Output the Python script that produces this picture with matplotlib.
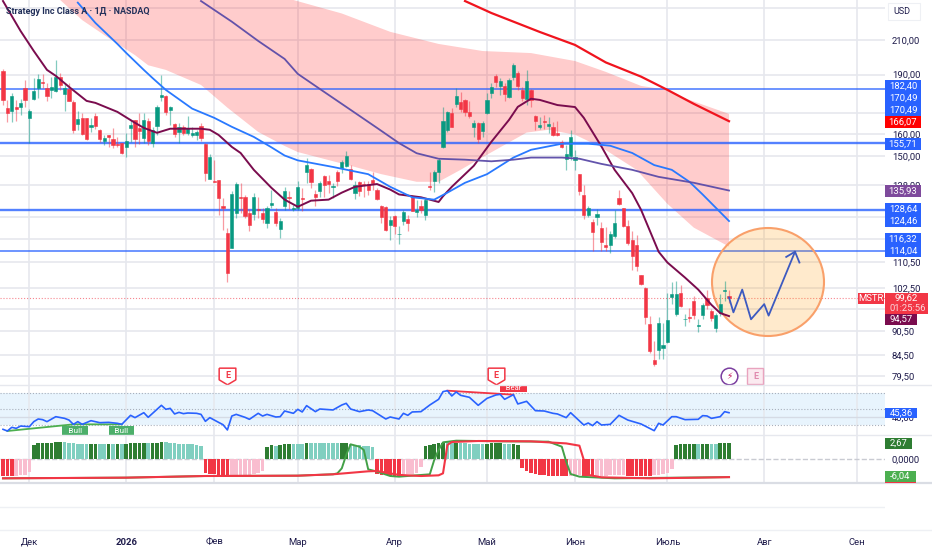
import numpy as np
import matplotlib
matplotlib.use('Agg')
import matplotlib.pyplot as plt
from matplotlib.lines import Line2D
from matplotlib.patches import Ellipse, Rectangle
from matplotlib.path import Path

plt.rcParams['font.family'] = ['Roboto', 'DejaVu Sans']

# daily candles, bars counted from the left edge of the chart
opens = [192.1, 172.3, 171.2, 173.2, 173.2, 182.6, 167.8, 177.3, 182.8, 185.8,
         182.8, 181.7, 181.4, 188.5, 179.5, 182.4, 175.6, 164.6, 167.4, 167.5,
         163.1, 168.6, 161.9, 157.0, 159.4, 157.6, 155.5, 156.0, 154.3, 162.9,
         166.5, 163.0, 158.3, 166.4, 155.8, 164.0, 178.3, 178.6, 171.5, 164.8,
         161.0, 163.2, 160.7, 159.4, 159.4, 164.0, 155.5, 140.5, 139.9, 140.0,
         129.8, 120.1, 115.1, 127.4, 133.5, 133.6, 127.4, 126.9, 128.9, 127.5,
         123.6, 130.3, 127.9, 121.6, 129.8, 133.6, 128.7, 129.1, 133.2, 143.6,
         144.7, 134.7, 135.8, 141.6, 139.6, 137.4, 143.6, 145.2, 145.7, 144.6,
         134.9, 139.3, 138.5, 138.5, 140.1, 136.3, 129.8, 129.5, 123.2, 126.2,
         119.8, 124.6, 125.3, 133.6, 127.7, 129.8, 126.5, 137.8, 139.6, 143.2,
         154.3, 161.9, 170.2, 174.4, 175.6, 176.5, 170.5, 163.5, 165.4, 161.4,
         170.2, 180.3, 189.3, 184.0, 183.8, 178.3, 188.7, 191.0, 181.7, 177.1,
         181.7, 168.6, 163.5, 166.0, 164.0, 163.5, 160.4, 156.4, 148.9, 150.0,
         148.3, 142.5, 134.3, 126.8, 124.2, 125.8, 122.0, 116.2, 116.1, 119.3,
         133.0, 129.1, 122.7, 117.7, 116.1, 106.4, 102.5, 92.5, 83.4, 85.7,
         86.3, 87.8, 100.0, 95.1, 101.2, 93.7, 94.3, 98.8, 91.8, 95.0,
         99.7, 96.0, 91.3, 95.5, 101.6, 100.2]
closes = [176.6, 170.2, 178.6, 171.9, 175.2, 176.6, 171.0, 181.0, 187.8, 185.3,
          178.6, 183.1, 188.5, 184.2, 182.6, 176.1, 161.9, 167.2, 160.0, 157.8,
          164.4, 163.8, 157.6, 158.3, 158.5, 155.0, 155.2, 151.7, 156.7, 164.3,
          157.6, 161.4, 166.5, 157.0, 161.9, 172.9, 179.0, 170.5, 173.2, 159.9,
          163.2, 160.7, 162.7, 160.4, 161.1, 158.0, 143.0, 149.7, 139.5, 133.1,
          129.1, 107.2, 134.7, 138.4, 133.0, 126.2, 123.0, 133.6, 128.5, 125.2,
          129.2, 131.0, 123.6, 124.5, 135.6, 133.2, 129.2, 137.5, 132.7, 146.2,
          139.4, 133.3, 138.9, 138.2, 138.5, 137.6, 139.6, 147.4, 150.0, 140.5,
          138.0, 135.6, 138.2, 136.2, 138.8, 132.7, 126.0, 121.4, 124.8, 122.6,
          120.0, 127.7, 123.8, 128.2, 128.6, 128.4, 132.4, 137.4, 143.4, 148.6,
          166.2, 170.3, 163.5, 178.8, 171.9, 170.5, 168.8, 165.4, 157.6, 165.1,
          176.6, 183.1, 186.2, 186.6, 179.5, 187.1, 195.4, 184.0, 177.6, 186.6,
          176.6, 166.4, 164.1, 165.5, 164.5, 159.6, 159.6, 154.0, 151.2, 158.5,
          149.6, 135.8, 126.5, 129.2, 120.5, 127.1, 117.0, 115.3, 120.0, 123.7,
          130.9, 122.7, 116.8, 112.4, 109.4, 103.8, 94.3, 85.4, 82.4, 92.8,
          87.0, 93.6, 100.9, 100.9, 97.4, 93.9, 94.1, 94.8, 92.1, 97.7,
          97.6, 94.0, 95.0, 97.8, 102.1, 99.62]
highs = [192.9, 176.6, 180.3, 176.6, 176.9, 187.1, 171.9, 188.0, 190.3, 190.3,
         185.3, 188.9, 198.2, 190.7, 185.3, 185.3, 176.6, 171.0, 169.9, 167.6,
         167.5, 170.2, 162.2, 159.6, 159.6, 162.7, 158.5, 156.1, 160.4, 166.7,
         166.7, 169.9, 170.2, 167.5, 163.2, 174.0, 189.8, 179.2, 173.5, 165.4,
         165.4, 164.3, 168.6, 163.2, 161.9, 165.4, 155.8, 151.2, 148.5, 140.2,
         132.9, 122.0, 135.6, 139.3, 138.9, 134.0, 128.9, 134.9, 133.6, 129.2,
         129.8, 136.2, 129.2, 125.6, 137.5, 135.6, 130.4, 139.9, 136.9, 149.3,
         145.0, 136.2, 139.6, 142.3, 142.3, 138.9, 144.3, 148.5, 152.2, 146.4,
         139.6, 139.6, 139.6, 139.6, 143.6, 136.9, 130.5, 129.8, 126.2, 126.5,
         122.6, 128.6, 126.8, 134.0, 132.4, 132.4, 133.0, 143.6, 144.1, 149.3,
         172.8, 171.0, 172.3, 182.6, 180.9, 177.0, 175.8, 166.7, 165.9, 166.2,
         180.3, 185.7, 190.3, 188.0, 185.3, 188.0, 196.3, 192.1, 183.5, 192.5,
         182.1, 169.1, 168.3, 169.1, 168.3, 165.9, 166.4, 157.3, 155.0, 161.9,
         152.9, 142.5, 138.0, 129.8, 125.3, 128.9, 124.2, 122.5, 121.0, 128.5,
         136.1, 129.1, 124.9, 120.8, 119.6, 106.6, 102.9, 94.6, 87.9, 94.4,
         92.8, 101.2, 104.3, 104.8, 103.6, 95.1, 96.9, 100.2, 93.7, 98.3,
         101.9, 96.4, 95.5, 100.9, 104.6, 102.1]
lows = [174.0, 165.9, 165.9, 166.4, 169.1, 173.2, 155.8, 176.6, 177.4, 182.6,
        175.8, 177.4, 180.8, 181.7, 171.2, 175.8, 160.4, 161.9, 159.6, 157.4,
        161.1, 162.6, 156.5, 155.0, 154.0, 153.5, 154.0, 151.2, 149.7, 156.5,
        154.0, 155.5, 155.8, 155.0, 154.3, 159.6, 175.8, 169.1, 164.3, 158.8,
        155.8, 159.6, 159.6, 158.5, 157.3, 157.0, 139.6, 140.5, 139.5, 126.8,
        121.4, 104.5, 115.1, 125.6, 127.4, 125.6, 120.9, 125.0, 125.6, 123.6,
        122.0, 129.2, 122.6, 118.5, 128.6, 128.9, 128.0, 128.6, 128.0, 138.9,
        136.9, 129.8, 133.6, 133.6, 134.9, 133.0, 137.6, 143.0, 145.3, 140.2,
        132.6, 133.9, 133.6, 134.0, 136.2, 132.3, 123.8, 120.9, 117.7, 119.9,
        116.5, 123.2, 121.1, 128.0, 125.8, 127.4, 125.0, 136.2, 135.3, 138.9,
        153.6, 161.1, 163.2, 173.2, 170.7, 168.8, 167.5, 158.8, 155.8, 158.5,
        169.5, 177.4, 183.1, 179.2, 175.8, 177.4, 187.1, 181.7, 175.8, 174.0,
        173.2, 161.9, 162.6, 162.6, 160.4, 159.1, 159.1, 153.6, 144.3, 148.5,
        144.3, 134.0, 125.2, 125.8, 114.2, 123.2, 114.3, 114.3, 113.5, 118.4,
        130.4, 122.5, 116.2, 108.1, 107.6, 103.6, 92.5, 85.0, 81.8, 83.6,
        83.5, 87.6, 97.8, 94.6, 97.2, 91.9, 93.0, 93.7, 90.2, 93.7,
        96.4, 93.2, 90.3, 94.6, 98.8, 98.3]

# overlay moving averages, read at a few bars along each line
fast_bars = [0, 4, 7, 10, 12, 15, 19, 21, 26, 30, 32, 35, 38, 45, 47, 49, 52, 54, 57, 61, 64, 67, 70, 74, 77,
             80, 85, 88, 90, 95, 99, 100, 102, 107, 111, 115, 117, 120, 122, 126, 130, 132, 136, 139, 143, 145,
             149, 151, 155, 158, 161, 163, 165]
fast_ma = [235.0, 215.5, 203.4, 192.6, 189.3, 183.4, 176.1, 175.1, 170.6, 165.3, 162.9, 160.6, 162.5, 162.5,
           162.0, 159.6, 154.2, 151.5, 144.3, 137.0, 132.4, 129.7, 132.0, 132.4, 135.1, 137.4, 138.5, 136.3,
           134.4, 133.3, 131.5, 133.7, 137.4, 146.0, 156.5, 166.7, 173.1, 177.2, 176.6, 174.0, 173.0, 167.7,
           154.4, 144.3, 134.9, 128.6, 113.9, 110.4, 105.7, 102.1, 97.7, 95.4, 94.57]
blue_bars = [17, 21, 26, 28, 32, 34, 37, 43, 48, 52, 57, 61, 64, 67, 75, 83, 88, 93, 98, 101, 105, 110, 116,
             120, 127, 133, 136, 138, 143, 148, 152, 156, 159, 165]
blue_ma = [233.9, 220.6, 207.6, 202.3, 192.6, 188.1, 181.8, 172.2, 167.7, 163.4, 158.7, 154.0, 150.4, 148.3,
           145.5, 142.5, 137.4, 133.3, 132.4, 135.1, 139.0, 142.5, 149.5, 152.9, 155.6, 155.6, 155.1, 154.7,
           151.5, 146.3, 144.3, 139.4, 134.4, 124.46]
purple_bars = [45, 52, 58, 64, 67, 72, 79, 85, 90, 94, 99, 105, 111, 116, 120, 127, 131, 136, 143, 149, 157, 165]
purple_ma = [235.0, 221.4, 209.4, 198.8, 190.4, 182.3, 171.6, 162.9, 155.9, 151.4, 149.0, 148.6, 147.9, 148.6,
             149.5, 149.5, 149.0, 146.8, 144.3, 141.4, 139.0, 135.93]
red_bars = [105, 111, 122, 130, 137, 145, 151, 157, 165]
red_ma = [235.0, 227.0, 214.9, 207.0, 196.8, 188.9, 181.8, 174.6, 166.07]

cloud_top_bars = [13, 66, 77, 88, 99, 109, 120, 130, 137, 145, 151, 154, 165]
cloud_top = [240.0, 235.7, 226.7, 215.0, 207.6, 203.4, 202.2, 197.6, 191.5, 183.9, 181.8, 178.2, 169.6]
cloud_low_bars = [13, 18, 24, 30, 33, 37, 45, 51, 58, 64, 67, 79, 86, 94, 99, 104, 108, 115, 119, 124, 130,
                  136, 144, 151, 157, 165]
cloud_low = [235.7, 222.4, 211.2, 201.0, 195.2, 192.6, 184.4, 172.7, 161.0, 154.6, 151.9, 146.0, 142.5, 139.4,
             139.4, 144.3, 148.6, 156.2, 160.7, 162.0, 159.7, 154.0, 144.3, 130.8, 122.1, 115.6]

levels = [182.40, 155.71, 128.64, 114.04]
level_widths = [1.2, 1.7, 1.7, 1.2]
last_price = 99.62

forecast_bars = [165, 166, 168, 170, 173, 174, 180]
forecast_prices = [99.8, 95.6, 102.1, 93.7, 97.9, 94.7, 113.9]
arrow_bars = [178, 180, 181]
arrow_prices = [112.2, 113.9, 110.4]

rsi_bars = [0, 1, 2, 3, 4, 6, 7, 8, 9, 10, 12, 14, 15, 16, 17, 18, 20, 22, 24, 26, 27, 29, 30, 32, 33, 34, 36,
            37, 38, 39, 40, 41, 42, 44, 45, 46, 47, 49, 50, 51, 52, 53, 55, 56, 58, 59, 60, 62, 63, 64, 66, 67,
            68, 69, 71, 72, 75, 77, 78, 79, 81, 83, 84, 87, 88, 90, 91, 92, 93, 95, 97, 99, 100, 101, 102, 103,
            104, 106, 108, 110, 112, 113, 114, 116, 117, 119, 121, 123, 125, 126, 128, 129, 132, 133, 134, 135,
            136, 138, 140, 142, 145, 148, 149, 150, 152, 153, 155, 158, 159, 160, 161, 163, 164, 165]
rsi_vals = [24.6, 22.5, 27.1, 25.8, 28.7, 27.9, 34.2, 37.5, 36.7, 34.2, 40.4, 38.3, 36.2, 30.8, 34.2, 30.8, 35.4,
            32.9, 33.3, 32.1, 30.8, 42.1, 39.2, 45.4, 39.6, 44.6, 54.6, 49.6, 50.8, 43.8, 45.8, 44.2, 45.0, 44.6,
            43.3, 34.6, 39.2, 33.3, 30.4, 23.8, 41.2, 43.3, 39.6, 37.1, 44.6, 41.2, 43.3, 40.0, 40.4, 47.5, 44.6,
            49.6, 46.3, 54.2, 46.7, 50.0, 48.8, 55.0, 57.1, 50.0, 46.7, 48.8, 47.9, 37.5, 40.0, 37.5, 44.6, 42.1,
            46.3, 46.7, 55.0, 62.1, 71.7, 72.9, 66.3, 71.3, 67.1, 64.6, 54.6, 63.3, 67.5, 68.3, 62.1, 67.9, 56.3,
            59.6, 47.9, 47.5, 44.6, 43.8, 39.2, 45.4, 30.0, 32.5, 29.2, 34.2, 30.0, 30.8, 42.1, 36.2, 31.3, 22.9,
            32.1, 30.0, 40.4, 40.4, 36.7, 37.1, 41.7, 41.3, 38.3, 40.4, 46.7, 45.36]
bull_bars = [1, 16, 27]
bull_vals = [22.5, 30.8, 30.8]
bear_bars = [101, 116]
bear_vals = [72.9, 67.9]

hist_vals = [-2.78, -2.78, -2.78, -2.78, -2.72, -2.61, -2.11, 2.39, 2.61, 2.72,
             2.72, 2.72, 2.78, 2.78, 2.78, 2.72, 2.61, 2.56, 2.44, 2.44,
             2.50, 2.50, 2.44, 2.50, 2.50, 2.50, 2.50, 2.50, 2.56, 2.61,
             2.61, 2.67, 2.67, 2.67, 2.72, 2.72, 2.78, 2.78, 2.72, 2.61,
             2.56, 2.50, 2.50, 2.44, 2.39, 2.22, -2.39, -2.44, -2.50, -2.67,
             -2.78, -2.94, -2.83, -2.78, -2.78, -2.72, -2.61, -2.50, -2.33, -2.06,
             2.06, 2.28, 2.22, 2.33, 2.44, 2.50, 2.56, 2.56, 2.56, 2.61,
             2.61, 2.61, 2.61, 2.61, 2.61, 2.61, 2.61, 2.67, 2.61, 2.50,
             2.33, 2.28, 2.22, 2.11, 2.00, -2.56, -2.67, -2.72, -2.78, -2.83,
             -2.83, -2.56, -2.50, -2.50, -2.28, -1.28, 2.17, 2.33, 2.44, 2.61,
             2.72, 2.78, 2.72, 2.72, 2.67, 2.61, 2.56, 2.50, 2.50, 2.50,
             2.56, 2.61, 2.61, 2.61, 2.56, 2.50, 2.50, 2.39, -1.56, -1.94,
             -2.28, -2.50, -2.61, -2.72, -2.78, -2.83, -2.83, -2.83, -2.83, -2.78,
             -2.78, -2.72, -2.83, -2.89, -2.89, -2.83, -2.78, -2.78, -2.72, -2.72,
             -2.72, -2.72, -2.78, -2.83, -2.83, -2.83, -2.78, -2.78, -2.61, -2.61,
             -2.56, -2.39, -1.72, 2.39, 2.44, 2.50, 2.50, 2.50, 2.50, 2.56,
             2.56, 2.56, 2.56, 2.61, 2.61, 2.67]
# 1 = strong shade of the histogram colour, 0 = pale shade
hist_strong = [1, 1, 1, 0, 0, 0, 0, 1, 1, 1, 1, 1, 1, 1, 0, 0, 0, 0, 0, 0,
               1, 1, 0, 0, 1, 0, 1, 0, 1, 1, 1, 1, 1, 0, 1, 1, 1, 0, 0, 0,
               0, 0, 0, 0, 0, 0, 1, 1, 1, 1, 1, 1, 0, 0, 0, 0, 0, 0, 0, 0,
               1, 1, 0, 1, 1, 1, 0, 0, 0, 1, 0, 0, 0, 0, 0, 0, 0, 1, 1, 0,
               0, 0, 0, 0, 0, 1, 1, 1, 1, 1, 1, 0, 0, 0, 0, 0, 1, 1, 1, 1,
               1, 0, 0, 1, 0, 0, 0, 0, 0, 0, 1, 1, 1, 1, 0, 0, 1, 1, 1, 1,
               1, 1, 1, 1, 1, 1, 1, 1, 1, 0, 0, 0, 1, 1, 1, 0, 0, 0, 0, 0,
               0, 0, 1, 1, 1, 1, 1, 1, 0, 0, 0, 0, 0, 1, 1, 1, 1, 1, 0, 1,
               1, 0, 0, 1, 1, 1]

osc_green_bars = [0, 28, 46, 67, 75, 76, 77, 78, 79, 81, 82, 83, 85, 88, 90, 97, 98, 99, 100, 103, 113, 124,
                  127, 128, 129, 131, 139, 165]
osc_green = [-6.44, -6.22, -5.67, -5.56, -5.1, -4.78, -3.1, 1.33, 4.89, 4.11, 3.0, -3.44, -4.2, -5.67, -5.89,
             -5.1, -0.33, 3.0, 5.56, 6.11, 5.89, 5.78, 4.11, -0.9, -5.0, -5.89, -6.44, -6.04]
osc_red_bars = [0, 28, 46, 67, 75, 83, 85, 88, 90, 95, 99, 100, 101, 102, 108, 120, 128, 131, 132, 133, 136,
                147, 158, 165]
osc_red = [-6.44, -6.22, -5.67, -5.56, -5.1, -4.1, -4.0, -4.8, -5.3, -5.67, -5.44, -4.78, 4.67, 5.67, 6.0, 5.89,
           5.2, 4.44, -0.33, -5.3, -6.11, -6.44, -6.22, -6.04]

month_bars = [6, 28, 48, 67, 89, 110, 130, 151, 173, 194]
month_labels = ['Дек', '2026', 'Фев', 'Мар', 'Апр', 'Май', 'Июн', 'Июль', 'Авг', 'Сен']

# labels that sit under a coloured tag in the reference are left empty
price_ticks = [230, 210, 190, 170, 160, 150, 138, 126, 118, 110.5, 102.5, 96.5, 90.5, 84.5, 79.5]
price_tick_labels = ['', '210,00', '190,00', '', '160,00', '150,00', '138,00', '', '',
                     '110,50', '102,50', '', '90,50', '84,50', '79,50']

earnings_bars = [51, 112]
future_earnings_bar = 171
dividend_bar = 165

W, H = 932, 550
GREEN, RED = '#089981', '#F23645'
GRID = '#E6E8EE'
TEXT = '#1E1B4B'
RIGHT = 885
FS = 6.8

fig = plt.figure(figsize=(W / 100, H / 100), dpi=100)


def pane(top, bottom):
    a = fig.add_axes([0, 1 - bottom / H, RIGHT / W, (bottom - top) / H])
    a.set_xlim(-0.68, 200.45)
    a.set_xticks(month_bars)
    a.tick_params(length=0, labelbottom=False, labelsize=FS, labelcolor=TEXT)
    a.yaxis.tick_right()
    for s in a.spines.values():
        s.set_visible(False)
    a.grid(axis='x', color=GRID, lw=1.2)
    a.set_axisbelow(True)
    return a


ax = pane(0, 385)
ax_rsi = pane(385, 435)
ax_osc = pane(435, 483)
ax_time = pane(483, 530)

# price pane
ax.set_yscale('log')
ax.set_ylim(77.5, 235.7)
ax.yaxis.set_minor_locator(plt.NullLocator())
ax.set_yticks(price_ticks)
ax.set_yticklabels(price_tick_labels)
ax.yaxis.set_minor_formatter(plt.NullFormatter())
ax.tick_params(axis='y', pad=5)
ax.grid(axis='y', color=GRID, lw=1.2)

ax.fill(list(cloud_top_bars) + cloud_low_bars[::-1], list(cloud_top) + cloud_low[::-1],
        color='#FF0000', alpha=0.2, lw=0, zorder=1)

for level, width in zip(levels, level_widths):
    ax.axhline(level, color='#2962FF', lw=width, alpha=0.8, zorder=1.5)
ax.axhline(last_price, color=RED, lw=0.8, ls=':', alpha=0.6, zorder=1.5)

ax.add_patch(Ellipse((7.68, 2.68), 1.12, 1.08, transform=fig.dpi_scale_trans,
                     facecolor=(1, 0.6, 0, 0.2), edgecolor='#F9A06A', lw=1.5, zorder=2))

bars = np.arange(len(opens))
o, c, hi, lo = map(np.array, (opens, closes, highs, lows))
up = c >= o
colors = np.where(up, GREEN, RED)
ax.vlines(bars, lo, hi, colors=list(colors), lw=0.9, alpha=0.5, zorder=3)
ax.bar(bars, np.abs(c - o), bottom=np.minimum(o, c), width=0.72, color=list(colors),
       edgecolor=list(colors), lw=0.4, zorder=3.5)

ax.plot(fast_bars, fast_ma, color='#7A0C4E', lw=1.4, zorder=4)
ax.plot(blue_bars, blue_ma, color='#2979FF', lw=1.3, zorder=4)
ax.plot(purple_bars, purple_ma, color='#5B4BA8', lw=1.3, alpha=0.95, zorder=4)
ax.plot(red_bars, red_ma, color='#F0141E', lw=1.6, zorder=4)

ax.plot(forecast_bars, forecast_prices, color='#3D5AC0', lw=1.3, zorder=5)
ax.plot(arrow_bars, arrow_prices, color='#3D5AC0', lw=1.3, zorder=5)

shield = Path([(-1, 1), (1, 1), (1, -0.4), (0, -1), (-1, -0.4), (-1, 1)])
for b in earnings_bars:
    ax.plot([b], [79.5], marker=shield, ms=12, mfc='white', mec=RED, mew=1.1, zorder=5)
    ax.text(b, 79.7, 'E', color=RED, fontsize=6.5, fontweight='bold', ha='center', va='center', zorder=6)
ax.plot([future_earnings_bar], [79.5], marker='s', ms=11, mfc='#FBEAF0', mec='#E9A3BE', mew=1, zorder=5)
ax.text(future_earnings_bar, 79.5, 'E', color='#E08AAE', fontsize=6.5, fontweight='bold',
        ha='center', va='center', zorder=6)
ax.plot([dividend_bar], [79.5], marker='o', ms=12, mfc='white', mec='#7B3FA0', mew=1.1, zorder=5)
ax.text(dividend_bar, 79.5, '\u26a1', color='#C2185B', fontsize=6.5, family='DejaVu Sans',
        ha='center', va='center', zorder=6)

ax.text(6 / RIGHT, 1 - 11 / 385, 'Strategy Inc Class A · 1Д · NASDAQ', transform=ax.transAxes,
        color='#22305A', fontsize=6.5, va='center', fontweight='bold', zorder=7)

# RSI pane
ax_rsi.set_ylim(17.5, 80)
ax_rsi.set_yticks([40])
ax_rsi.set_yticklabels(['40,00'])
ax_rsi.tick_params(axis='y', pad=5)
ax_rsi.grid(axis='y', color='#D5DBE5', lw=1)
ax_rsi.axhspan(30, 70, color='#2196F3', alpha=0.1, lw=0, zorder=0.5)
for level in (70, 50, 30):
    ax_rsi.axhline(level, color='#A9B0BC', lw=0.8, ls=':', zorder=1)
ax_rsi.plot(rsi_bars, rsi_vals, color='#2962FF', lw=1.2, zorder=3)
ax_rsi.plot(bull_bars, bull_vals, color='#4CAF50', lw=1.3, zorder=2.5)
ax_rsi.plot(bear_bars, bear_vals, color=RED, lw=1.3, zorder=2.5)
for b in (bull_bars[1] + 0.3, bull_bars[2] - 0.1):
    ax_rsi.text(b, 22.5, '  Bull  ', color='white', fontsize=6, ha='center', va='center', zorder=4,
                bbox=dict(facecolor='#4CAF6A', edgecolor='none', pad=1.2))
ax_rsi.text(bear_bars[1], 76.5, '  Bear  ', color='white', fontsize=5.5, ha='center', va='center', zorder=4,
            clip_on=True, bbox=dict(facecolor=RED, edgecolor='none', pad=1.2))

# histogram and the two smoothed lines have their own scales
ax_osc.set_ylim(-4, 4)
ax_osc.axhline(0, color='#C9CBD2', lw=1, ls='--', zorder=1)
hist_colors = []
for v, s in zip(hist_vals, hist_strong):
    if v >= 0:
        hist_colors.append('#2E7D32' if s else '#80CFC0')
    else:
        hist_colors.append('#F23645' if s else '#F9BDCF')
ax_osc.bar(np.arange(len(hist_vals)), hist_vals, width=0.78, color=hist_colors, lw=0, zorder=2)

ax_line = ax_osc.twinx()
ax_line.set_ylim(-8, 8)
ax_line.set_yticks([0])
ax_line.set_yticklabels(['0,0000'])
ax_line.tick_params(axis='y', length=0, pad=5, labelsize=FS, labelcolor=TEXT)
ax_osc.set_yticks([])
for s in ax_line.spines.values():
    s.set_visible(False)
ax_line.plot(osc_green_bars, osc_green, color='#43A047', lw=1.4)
ax_line.plot(osc_red_bars, osc_red, color='#F23645', lw=1.5)

# empty strip above the time scale
ax_time.set_ylim(0, 1)
ax_time.grid(False)
ax_time.set_yticks([])
ax_time.axhline(0.49, color='#EEF0F4', lw=1)
ax_time.tick_params(axis='x', labelbottom=True, pad=5.5)
ax_time.set_xticklabels(month_labels)
ax_time.get_xticklabels()[1].set_fontweight('bold')


def hline(y, color, lw=1):
    fig.add_artist(Line2D([0, 1], [1 - y / H] * 2, color=color, lw=lw))


hline(385, '#E6E8EE')
hline(435, '#E6E8EE')
hline(483, '#DADDE4', 1.6)
hline(530, '#EEF0F4')


def tag(text, top, bottom, color, x0=RIGHT, x1=921, fg='white'):
    fig.add_artist(Rectangle((x0 / W, 1 - bottom / H), (x1 - x0) / W, (bottom - top) / H,
                             transform=fig.transFigure, facecolor=color, edgecolor='none', zorder=5))
    fig.text((x0 + x1) / 2 / W, 1 - (top + bottom) / 2 / H, text, color=fg, fontsize=FS,
             ha='center', va='center', zorder=6)


BLUE = '#2962FF'
tag('182,40', 80, 92, BLUE)
tag('170,49', 92, 104, BLUE)
tag('170,49', 104, 116, BLUE)
tag('166,07', 116, 127.5, '#FF0000')
tag('155,71', 138, 150, BLUE)
tag('135,93', 185, 197, '#7E4A9C')
tag('128,64', 203, 215, BLUE)
tag('124,46', 215, 227, BLUE)
tag('116,32', 233, 245, BLUE)
tag('114,04', 245, 257, BLUE)

tag('MSTR', 293, 304, RED, x0=858, x1=884)
fig.add_artist(Rectangle((RIGHT / W, 1 - 314 / H), 43 / W, 21 / H, transform=fig.transFigure,
                         facecolor=RED, edgecolor='none', zorder=5))
fig.text(906 / W, 1 - 298.5 / H, '99,62', color='white', fontsize=FS, ha='center', va='center', zorder=6)
fig.text(908 / W, 1 - 308.5 / H, '01:25:56', color='#FBD5DA', fontsize=FS, ha='center', va='center', zorder=6)
tag('94,57', 314, 325, '#7A0C4E', x1=917)
tag('45,36', 408, 418, BLUE, x1=917)
tag('2,67', 438, 449, '#2E7D32', x1=912)
tag('-6,04', 471, 482, '#4CAF50', x1=916)
fig.add_artist(Rectangle((RIGHT / W, 1 - 483 / H), 31 / W, 1.4 / H, transform=fig.transFigure,
                         facecolor=RED, edgecolor='none', zorder=6))

fig.add_artist(Rectangle((888 / W, 1 - 20 / H), 32 / W, 17 / H, transform=fig.transFigure,
                         facecolor='white', edgecolor='#EEF0F4', lw=0.8, zorder=5))
fig.text(902 / W, 1 - 11.5 / H, 'USD', color=TEXT, fontsize=6.5, ha='center', va='center', zorder=6)

fig.savefig('out.png', dpi=100)
